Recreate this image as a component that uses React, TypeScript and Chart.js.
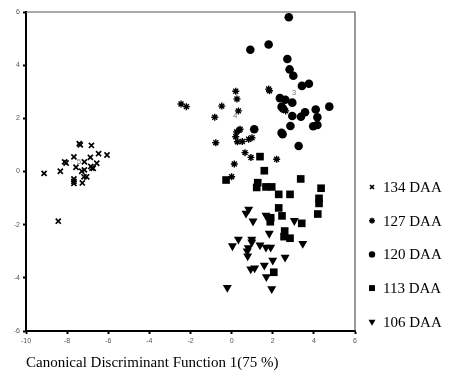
import React, { useEffect, useRef } from 'react';
import { Chart, registerables } from 'chart.js';
import { drawPoint } from 'chart.js/helpers';

Chart.register(...registerables);

const seriesLabels = ['134 DAA', '127 DAA', '120 DAA', '113 DAA', '106 DAA'];

const daa134: number[][] = [
  [-7.41, 1.05], [-7.36, 1.0], [-6.82, 0.98], [-6.47, 0.67], [-6.06, 0.62],
  [-7.67, 0.55], [-6.87, 0.53], [-8.12, 0.36], [-8.05, 0.32], [-7.16, 0.36],
  [-6.56, 0.31], [-7.57, 0.16], [-6.85, 0.19], [-6.79, 0.13], [-6.73, 0.12],
  [-7.16, 0.06], [-7.29, 0.01], [-9.12, -0.07], [-8.33, 0.01], [-7.67, -0.28],
  [-7.67, -0.37], [-7.67, -0.45], [-7.18, -0.2], [-7.05, -0.2], [-7.26, -0.43],
  [-8.43, -1.87],
];

const daa127: number[][] = [
  [-2.46, 2.54], [-2.2, 2.44], [0.2, 3.02], [0.26, 2.73], [-0.48, 2.46],
  [-0.82, 2.04], [0.33, 2.28], [1.8, 3.1], [1.84, 3.04], [2.63, 2.28],
  [0.41, 1.59], [0.24, 1.49], [0.2, 1.31], [0.28, 1.12], [0.52, 1.13],
  [0.83, 1.21], [0.99, 1.27], [-0.77, 1.08], [0.65, 0.71], [0.94, 0.53],
  [2.19, 0.46], [0.13, 0.28], [0.0, -0.2], [0.36, 1.55],
];

const daa120: number[][] = [
  [2.78, 5.8], [1.8, 4.78], [0.91, 4.58], [2.71, 4.23], [2.82, 3.84],
  [3.0, 3.6], [3.42, 3.22], [3.76, 3.3], [2.35, 2.76], [2.61, 2.7],
  [2.95, 2.59], [2.43, 2.43], [2.51, 2.36], [3.57, 2.23], [3.37, 2.06],
  [2.95, 2.09], [4.09, 2.33], [4.75, 2.44], [4.17, 2.04], [2.86, 1.71],
  [3.97, 1.7], [4.17, 1.75], [1.1, 1.59], [2.43, 1.46], [2.48, 1.4],
  [3.26, 0.96],
];

const daa113: number[][] = [
  [1.38, 0.56], [1.59, 0.03], [-0.27, -0.32], [3.36, -0.28], [1.27, -0.42],
  [1.22, -0.6], [1.67, -0.58], [1.95, -0.58], [2.29, -0.86], [2.84, -0.86],
  [4.35, -0.63], [4.25, -1.01], [4.25, -1.2], [4.19, -1.6], [2.29, -1.37],
  [2.45, -1.67], [1.9, -1.74], [1.88, -1.89], [3.41, -1.95], [2.58, -2.24],
  [2.55, -2.45], [2.84, -2.51], [2.05, -3.79],
];

const daa106: number[][] = [
  [0.83, -1.42], [0.7, -1.57], [1.04, -1.87], [1.67, -1.65], [1.73, -1.7],
  [3.05, -1.85], [1.83, -2.33], [0.33, -2.55], [0.98, -2.55], [0.98, -2.66],
  [0.04, -2.8], [0.81, -2.87], [0.76, -2.99], [1.38, -2.77], [1.67, -2.85],
  [1.9, -2.85], [3.46, -2.71], [0.78, -3.18], [2.6, -3.23], [2.0, -3.34],
  [1.59, -3.53], [0.93, -3.67], [1.12, -3.63], [1.69, -3.96], [-0.21, -4.37],
  [1.95, -4.41],
];

const centroidLabels = ['5', '3', '4'];
const centroidX = [-7.42, 3.03, 0.17];
const centroidY = [0.36, 2.95, 2.09];

const xMin = -10, xMax = 6, xStep = 2;
const yMin = -6, yMax = 6, yStep = 2;
const xTitle = 'Canonical Discriminant Function 1(75 %)';

const toPts = (arr: number[][]) => arr.map(([x, y]) => ({ x, y }));

const styles = [
  { pointStyle: 'crossRot', radius: 3.6, borderWidth: 1.7, rotation: 0, legendRadius: 2.8 },
  { pointStyle: 'star', radius: 3.5, borderWidth: 1.4, rotation: 0, legendRadius: 3 },
  { pointStyle: 'circle', radius: 4.3, borderWidth: 0, rotation: 0, legendRadius: 3.2 },
  { pointStyle: 'rect', radius: 5.4, borderWidth: 0, rotation: 0, legendRadius: 4.2 },
  { pointStyle: 'triangle', radius: 5.2, borderWidth: 0, rotation: 180, legendRadius: 4 },
];

const framePlugin = {
  id: 'frame',
  beforeDatasetsDraw(chart: any) {
    const { ctx, chartArea } = chart;
    ctx.save();
    ctx.strokeStyle = '#555';
    ctx.lineWidth = 1.2;
    ctx.beginPath();
    ctx.moveTo(chartArea.left, chartArea.top);
    ctx.lineTo(chartArea.right, chartArea.top);
    ctx.lineTo(chartArea.right, chartArea.bottom);
    ctx.stroke();
    ctx.restore();
  },
  afterDatasetsDraw(chart: any) {
    const { ctx } = chart;
    const xs = chart.scales.x, ys = chart.scales.y;
    ctx.save();
    ctx.fillStyle = '#777';
    ctx.font = '8px "Liberation Sans", Arial, sans-serif';
    ctx.textAlign = 'center';
    ctx.textBaseline = 'middle';
    centroidLabels.forEach((t, i) => {
      ctx.fillText(t, xs.getPixelForValue(centroidX[i]), ys.getPixelForValue(centroidY[i]));
    });
    ctx.restore();
  },
  afterDraw(chart: any) {
    const { ctx, chartArea } = chart;
    const mx = chartArea.right + 17;
    const tx = chartArea.right + 28;
    const y0 = chartArea.top + 175;
    const gap = 33.7;
    ctx.save();
    ctx.font = '15px "Liberation Serif", "Times New Roman", serif';
    ctx.textBaseline = 'middle';
    ctx.textAlign = 'left';
    chart.data.datasets.forEach((ds: any, i: number) => {
      const st = styles[i];
      const y = y0 + i * gap;
      ctx.fillStyle = '#000';
      ctx.strokeStyle = '#000';
      ctx.lineWidth = st.borderWidth;
      drawPoint(ctx, { pointStyle: st.pointStyle, rotation: st.rotation, radius: st.legendRadius, borderWidth: st.borderWidth } as any, mx, y);
      ctx.fillStyle = '#000';
      ctx.fillText(ds.label, tx, y + 1);
    });
    ctx.restore();
  },
};

export default function App() {
  const ref = useRef<HTMLCanvasElement | null>(null);
  useEffect(() => {
    document.body.style.margin = '0';
    if (!ref.current) return;
    const all = [daa134, daa127, daa120, daa113, daa106];
    const tickFont = { family: '"Liberation Sans", Arial, sans-serif', size: 7 };
    const chart = new Chart(ref.current, {
      type: 'scatter',
      data: {
        datasets: all.map((arr, i) => ({
          label: seriesLabels[i],
          data: toPts(arr),
          pointStyle: styles[i].pointStyle as any,
          pointRadius: styles[i].radius,
          pointRotation: styles[i].rotation,
          pointBorderWidth: styles[i].borderWidth,
          backgroundColor: '#000',
          borderColor: '#000',
          pointHoverRadius: styles[i].radius,
        })),
      },
      options: {
        animation: false,
        responsive: true,
        maintainAspectRatio: false,
        layout: { padding: { top: 12, right: 94, left: 0, bottom: 0 } },
        plugins: { legend: { display: false }, tooltip: { enabled: false } },
        scales: {
          x: {
            type: 'linear',
            min: xMin,
            max: xMax,
            ticks: { stepSize: xStep, font: tickFont, color: '#555', padding: 3, maxRotation: 0 },
            grid: { drawOnChartArea: false, tickLength: 3, tickWidth: 2, tickColor: '#000' },
            border: { color: '#000', width: 2 },
            title: {
              display: true,
              text: xTitle,
              align: 'start',
              color: '#000',
              font: { family: '"Liberation Serif", "Times New Roman", serif', size: 15 },
              padding: { top: 0, bottom: 11 },
            },
            afterFit: (s: any) => { s.height = 52; },
          },
          y: {
            type: 'linear',
            min: yMin,
            max: yMax,
            ticks: { stepSize: yStep, font: tickFont, color: '#555', padding: 3 },
            grid: { drawOnChartArea: false, tickLength: 3, tickWidth: 2, tickColor: '#000' },
            border: { color: '#000', width: 2 },
            afterFit: (s: any) => { s.width = 26; },
          },
        },
      },
      plugins: [framePlugin],
    });
    return () => chart.destroy();
  }, []);
  return (
    <div style={{ width: 449, height: 383, position: 'relative', background: '#fff' }}>
      <canvas ref={ref} />
    </div>
  );
}
